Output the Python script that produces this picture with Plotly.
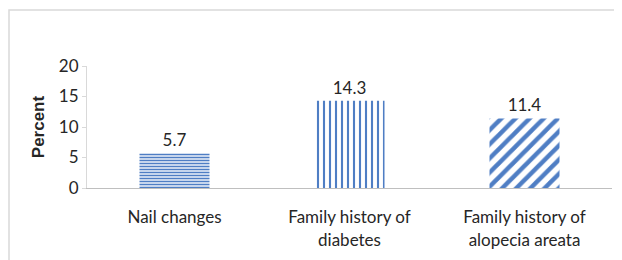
import plotly.graph_objects as go

categories = ["Nail changes", "Family history of<br>diabetes", "Family history of<br>alopecia areata"]
values = [5.7, 14.3, 11.4]
labels = ["5.7", "14.3", "11.4"]
patterns = ["-", "|", "/"]
tick_vals = [0, 5, 10, 15, 20]

# page body has an 8px offset
OFF = 8
W, H = 622 - OFF, 260 - OFF
L, R, T, B = 87 - OFF, 10, 66 - OFF, 72
pw, ph = W - L - R, H - T - B

font_fam = "Lato, Liberation Sans, sans-serif"

fig = go.Figure(go.Bar(
    x=categories, y=values, text=labels, textposition="outside",
    textfont=dict(size=17, color="#262626", family=font_fam),
    cliponaxis=False,
    marker=dict(
        color="white",
        line=dict(width=0),
        pattern=dict(shape=patterns, fgcolor="#4f7ec4", bgcolor="white",
                     size=[3, 6, 10], solidity=[0.55, 0.35, 0.45], fillmode="replace"),
    ),
))

fig.update_layout(
    width=W, height=H,
    margin=dict(l=L, r=R, t=T, b=B),
    paper_bgcolor="white", plot_bgcolor="white",
    bargap=0.6, showlegend=False,
    font=dict(family=font_fam, size=17, color="#262626"),
    xaxis=dict(showline=True, linecolor="#bfbfbf", linewidth=1, ticks="",
               tickfont=dict(size=17), showgrid=False, ticklabelstandoff=14),
    yaxis=dict(range=[0, 20], tickvals=tick_vals, showgrid=False, zeroline=False,
               showline=True, linecolor="#d9d9d9", ticks="outside", ticklen=4,
               tickcolor="#d9d9d9", tickfont=dict(size=17),
               title=dict(text="<b>Percent</b>", font=dict(size=17, family="Liberation Sans, Arial, sans-serif"), standoff=9)),
    shapes=[dict(type="rect", xref="paper", yref="paper",
                 x0=(1 - L) / pw, x1=(W + 5 - L) / pw,
                 y0=-(B + 5) / ph, y1=(H - 2 - B) / ph,
                 line=dict(color="#d9d9d9", width=1.5), fillcolor="rgba(0,0,0,0)", layer="below")],
)

fig.write_html("out.html")
